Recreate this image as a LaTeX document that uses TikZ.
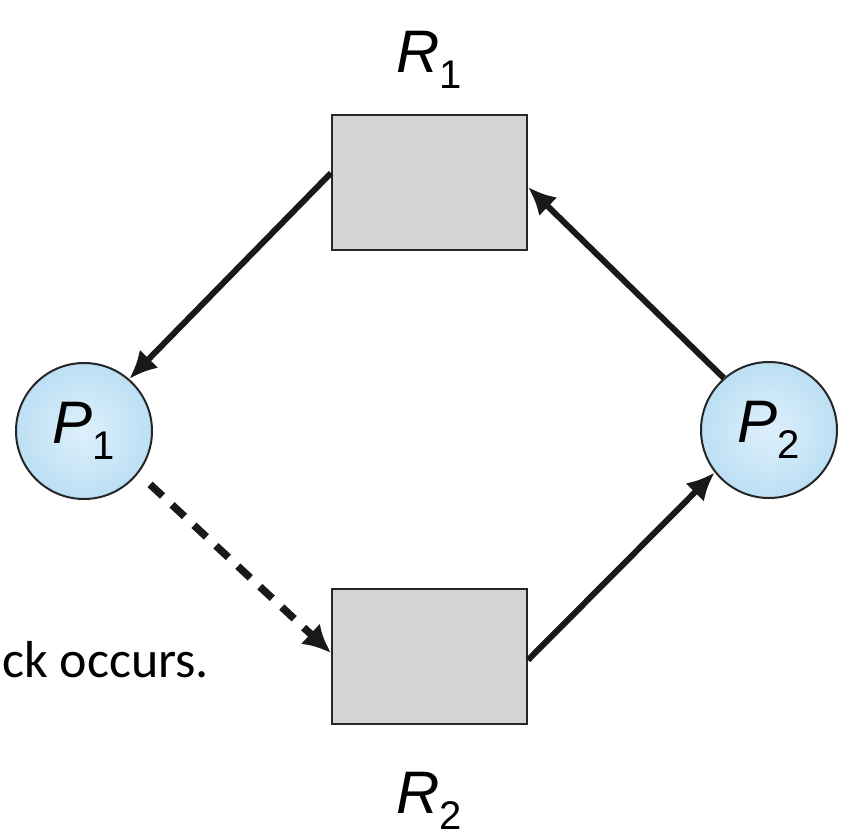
\documentclass[tikz,border=0pt]{standalone}
\usepackage{fontspec}
\setmainfont{Liberation Sans}
\newfontfamily\calibrifont{Carlito}
\usetikzlibrary{arrows.meta,calc}
\definecolor{resgray}{RGB}{211,212,214}
\definecolor{procin}{RGB}{222,240,251}
\definecolor{procout}{RGB}{188,223,244}
\newcommand{\biglab}[2]{{\fontsize{60}{60}\selectfont\itshape #1}\raisebox{-16pt}{\fontsize{40}{40}\selectfont #2}}
\tikzset{
  res/.style={draw=black!85, line width=2pt, fill=resgray, minimum width=195pt, minimum height=135pt, inner sep=0pt},
  proc/.style={circle, draw=black!85, line width=2pt, inner color=procin, outer color=procout, minimum size=136pt, inner sep=0pt},
  arr/.style={draw=black!90, line width=6pt, -{Latex[length=28pt,width=26pt]}},
  darr/.style={draw=black!90, line width=7.5pt, dash pattern=on 17pt off 13pt, -{Latex[length=28pt,width=28pt]}},
  lab/.style={inner sep=0pt}
}
\begin{document}
\begin{tikzpicture}[x=1pt,y=-1pt]
  \useasboundingbox (0,0) rectangle (856,838);
  \node[res] (R1) at (429.5,182) {};
  \node[res] (R2) at (429.5,656) {};
  \node[proc] (P1) at (84,431) {\biglab{P}{1}};
  \node[proc] (P2) at (769,430) {\biglab{P}{2}};
  \node[lab, anchor=base west] (R1lab) at (396,72) {\biglab{R}{1}};
  \node[lab, anchor=base west] (R2lab) at (396,813) {\biglab{R}{2}};
  \node[lab, anchor=base west, font=\calibrifont\fontsize{52}{60}\selectfont] (txt) at (2,677) {ck occurs.};
  \draw[arr] ([yshift=9pt]R1.west) -- (P1.49);
  \draw[arr] (P2.131) -- ([yshift=-5pt]R1.east);
  \draw[darr, shorten <=16pt] (P1.-38) -- ([yshift=3pt]R2.west);
  \draw[arr] ([yshift=-4pt]R2.east) -- (P2.-142);
\end{tikzpicture}
\end{document}
